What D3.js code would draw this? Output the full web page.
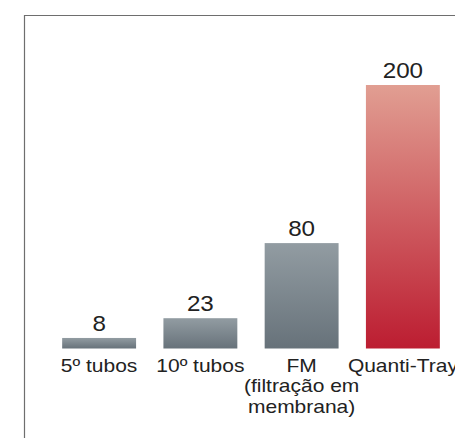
<!DOCTYPE html>
<html>
<head>
<meta charset="utf-8">
<script src="https://cdn.jsdelivr.net/npm/d3@7"></script>
<style>
  body { margin: 0; background: #fff; }
  svg { display: block; font-family: "Liberation Sans", Arial, sans-serif; }
</style>
</head>
<body>
<script>
// dados
var categories = ['5º tubos', '10º tubos', 'FM|(filtração em|membrana)', 'Quanti-Tray'];
var values = [8, 23, 80, 200];
var highlight = [false, false, false, true];

var width = 455, height = 438;

var canvas = d3.select('body').append('svg')
    .attr('width', width)
    .attr('height', height);

// gradientes
var defs = canvas.append('defs');
function grad(id, top, bottom) {
    var g = defs.append('linearGradient').attr('id', id)
        .attr('x1', 0).attr('y1', 0).attr('x2', 0).attr('y2', 1);
    g.append('stop').attr('offset', '0%').attr('stop-color', top);
    g.append('stop').attr('offset', '100%').attr('stop-color', bottom);
}
grad('gray', '#929ca2', '#67727a');
grad('red', '#e19e92', '#bc1d31');

// moldura
canvas.append('path')
    .attr('d', 'M24.5,438V15.5H455')
    .attr('fill', 'none')
    .attr('stroke', '#6e6e6e')
    .attr('stroke-width', 1.2);

var x = d3.scaleBand()
    .domain(d3.range(categories.length))
    .range([49, 453])
    .paddingInner(0.27)
    .paddingOuter(0.13);

var y = d3.scaleLinear()
    .domain([0, 200])
    .range([348.5, 85]);

function cx(i) { return x(i) + x.bandwidth() / 2; }

canvas.append('g').selectAll('rect').data(values)
    .enter().append('rect')
    .attr('x', function(d, i) { return x(i); })
    .attr('y', function(d) { return y(d); })
    .attr('width', x.bandwidth())
    .attr('height', function(d) { return y(0) - y(d); })
    .attr('fill', function(d, i) { return highlight[i] ? 'url(#red)' : 'url(#gray)'; });

// valores (texto um pouco largo, como no original)
canvas.append('g').selectAll('text').data(values)
    .enter().append('text')
    .attr('text-anchor', 'middle')
    .attr('transform', function(d, i) {
        return 'translate(' + cx(i) + ',' + (y(d) - 7) + ') scale(1.1,1)';
    })
    .attr('font-size', 22)
    .attr('fill', '#222')
    .text(function(d) { return d; });

var labels = canvas.append('g').selectAll('text').data(categories)
    .enter().append('text')
    .attr('text-anchor', 'middle')
    .attr('font-size', 17.5)
    .attr('fill', '#222')
    .attr('transform', function(d, i) { return 'translate(' + cx(i) + ',372) scale(1.2,1)'; });

labels.selectAll('tspan').data(function(d) { return d.split('|'); })
    .enter().append('tspan')
    .attr('x', 0)
    .attr('dy', function(d, j) { return j === 0 ? 0 : 20.5; })
    .text(function(d) { return d; });
</script>
</body>
</html>
